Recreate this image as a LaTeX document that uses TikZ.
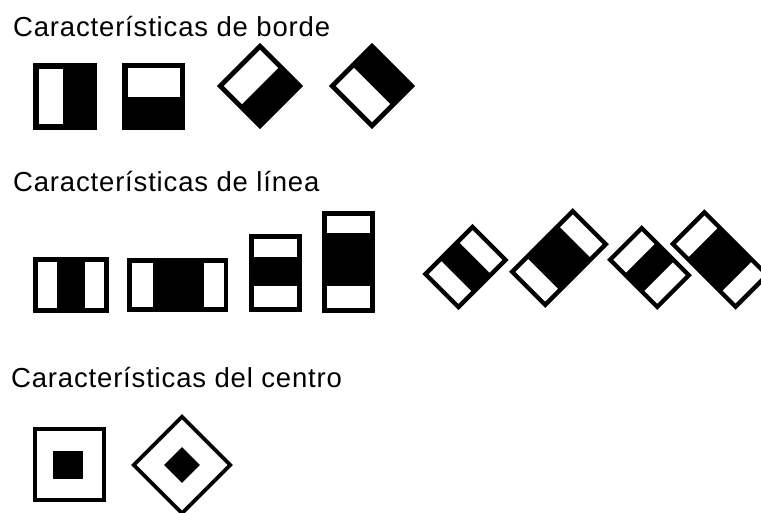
\documentclass[tikz,border=0pt]{standalone}
\usepackage{fontspec}
\setmainfont{Liberation Sans}[LetterSpace=3]
\begin{document}
\begin{tikzpicture}[x=1pt,y=-1pt,
  lbl/.style={inner sep=0pt, font=\fontsize{27.5}{31}\selectfont, text=black},
  blk/.style={fill=black},
  wht/.style={fill=white}]
\path[use as bounding box, clip] (0,0) rectangle (761,513);
\fill[white] (0,0) rectangle (761,513);
% titles
\node[lbl, anchor=base west] (t1) at (13,37) {Características de borde};
\node[lbl, anchor=base west] (t2) at (13,192) {Características de línea};
\node[lbl, anchor=base west] (t3) at (11,387) {Características del centro};
% ---- edge features
\fill[blk] (33,63) rectangle (97,130);
\fill[wht] (39,69) rectangle (63,124);
\fill[blk] (122,63) rectangle (185,130);
\fill[wht] (128,68) rectangle (180,97);
\begin{scope}[shift={(260,86)}, rotate=45]
  \fill[blk] (-30.5,-30.5) rectangle (30.5,30.5);
  \fill[wht] (-25.5,-25.5) rectangle (25.5,0);
\end{scope}
\begin{scope}[shift={(372,86)}, rotate=45]
  \fill[blk] (-30.5,-30.5) rectangle (30.5,30.5);
  \fill[wht] (-25.5,-25.5) rectangle (0,25.5);
\end{scope}
% ---- line features
\fill[blk] (33,257) rectangle (109,313);
\fill[wht] (38,262) rectangle (57,308);
\fill[wht] (85,262) rectangle (104,308);
\fill[blk] (127,258) rectangle (228,312);
\fill[wht] (132,263) rectangle (153,307);
\fill[wht] (204,263) rectangle (224,307);
\fill[blk] (249,234) rectangle (302,312);
\fill[wht] (254,239) rectangle (297,257);
\fill[wht] (254,286) rectangle (297,307);
\fill[blk] (322,211) rectangle (375,313);
\fill[wht] (327,216) rectangle (370,233);
\fill[wht] (327,286) rectangle (370,308);
\begin{scope}[shift={(465.5,267)}, rotate=-45]
  \fill[blk] (-25.5,-35.5) rectangle (25.5,35.5);
  \fill[wht] (-21,-31) rectangle (21,-13);
  \fill[wht] (-21,13) rectangle (21,31);
\end{scope}
\begin{scope}[shift={(559,258)}, rotate=-45]
  \fill[blk] (-25.5,-45) rectangle (25.5,45);
  \fill[wht] (-21,-40.5) rectangle (21,-22.5);
  \fill[wht] (-21,22.5) rectangle (21,40.5);
\end{scope}
\begin{scope}[shift={(649.5,267.5)}, rotate=45]
  \fill[blk] (-24.5,-35.5) rectangle (24.5,35.5);
  \fill[wht] (-20,-31) rectangle (20,-13);
  \fill[wht] (-20,13) rectangle (20,31);
\end{scope}
\begin{scope}[shift={(720,259.5)}, rotate=45]
  \fill[blk] (-24.5,-46.5) rectangle (24.5,46.5);
  \fill[wht] (-20,-42) rectangle (20,-24);
  \fill[wht] (-20,24) rectangle (20,42);
\end{scope}
% ---- center features
\fill[blk] (33,427) rectangle (106,502);
\fill[wht] (37,431) rectangle (102,498);
\fill[blk] (53,451) rectangle (83,479);
\begin{scope}[shift={(182,465)}, rotate=45]
  \fill[blk] (-36,-36) rectangle (36,36);
  \fill[wht] (-32,-32) rectangle (32,32);
  \fill[blk] (-12.7,-12.7) rectangle (12.7,12.7);
\end{scope}
\end{tikzpicture}
\end{document}
